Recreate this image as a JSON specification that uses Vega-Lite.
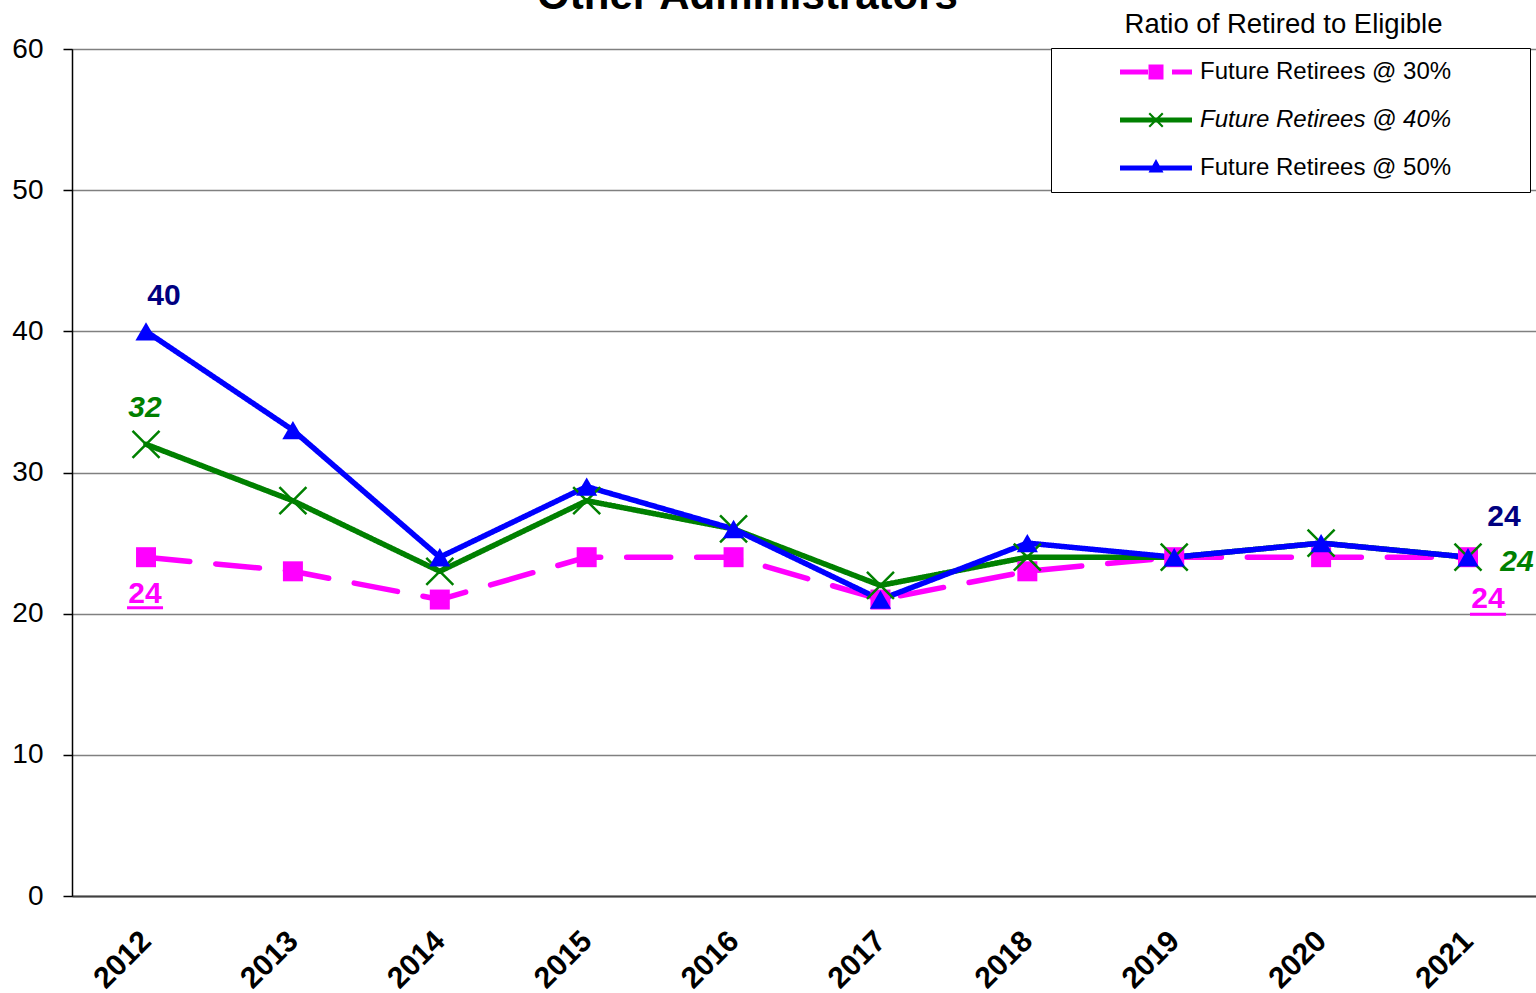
{
  "$schema": "https://vega.github.io/schema/vega-lite/v6.json",
  "autosize": "none",
  "width": 1464,
  "height": 847,
  "padding": {"left": 72, "top": 49, "right": 0, "bottom": 97},
  "config": {
    "font": "Liberation Sans",
    "view": {"stroke": "#000", "strokeWidth": 1},
    "background": "white"
  },
  "data": {"values": [
    {"year": 2012, "series": "Future Retirees @ 30%", "value": 24},
    {"year": 2013, "series": "Future Retirees @ 30%", "value": 23},
    {"year": 2014, "series": "Future Retirees @ 30%", "value": 21},
    {"year": 2015, "series": "Future Retirees @ 30%", "value": 24},
    {"year": 2016, "series": "Future Retirees @ 30%", "value": 24},
    {"year": 2017, "series": "Future Retirees @ 30%", "value": 21},
    {"year": 2018, "series": "Future Retirees @ 30%", "value": 23},
    {"year": 2019, "series": "Future Retirees @ 30%", "value": 24},
    {"year": 2020, "series": "Future Retirees @ 30%", "value": 24},
    {"year": 2021, "series": "Future Retirees @ 30%", "value": 24},
    {"year": 2012, "series": "Future Retirees @ 40%", "value": 32},
    {"year": 2013, "series": "Future Retirees @ 40%", "value": 28},
    {"year": 2014, "series": "Future Retirees @ 40%", "value": 23},
    {"year": 2015, "series": "Future Retirees @ 40%", "value": 28},
    {"year": 2016, "series": "Future Retirees @ 40%", "value": 26},
    {"year": 2017, "series": "Future Retirees @ 40%", "value": 22},
    {"year": 2018, "series": "Future Retirees @ 40%", "value": 24},
    {"year": 2019, "series": "Future Retirees @ 40%", "value": 24},
    {"year": 2020, "series": "Future Retirees @ 40%", "value": 25},
    {"year": 2021, "series": "Future Retirees @ 40%", "value": 24},
    {"year": 2012, "series": "Future Retirees @ 50%", "value": 40},
    {"year": 2013, "series": "Future Retirees @ 50%", "value": 33},
    {"year": 2014, "series": "Future Retirees @ 50%", "value": 24},
    {"year": 2015, "series": "Future Retirees @ 50%", "value": 29},
    {"year": 2016, "series": "Future Retirees @ 50%", "value": 26},
    {"year": 2017, "series": "Future Retirees @ 50%", "value": 21},
    {"year": 2018, "series": "Future Retirees @ 50%", "value": 25},
    {"year": 2019, "series": "Future Retirees @ 50%", "value": 24},
    {"year": 2020, "series": "Future Retirees @ 50%", "value": 25},
    {"year": 2021, "series": "Future Retirees @ 50%", "value": 24}
  ]},
  "encoding": {
    "x": {"field": "year", "type": "quantitative",
      "scale": {"domain": [2011.496, 2021.463], "nice": false, "zero": false},
      "axis": {"values": [2012, 2013, 2014, 2015, 2016, 2017, 2018, 2019, 2020, 2021], "format": "d",
        "title": "Other Administrators", "titleX": 675, "titleY": -888, "titleAngle": 0, "titleAlign": "center", "titleBaseline": "alphabetic",
        "titleFontSize": 42, "titleFontWeight": "bold", "titleColor": "black",
        "labelAngle": -45, "labelAlign": "right", "labelBaseline": "middle", "labelFontWeight": "bold", "labelFontSize": 30,
        "labelColor": "black", "labelPadding": 40, "ticks": false, "grid": false, "domainColor": "#404040", "domainWidth": 2, "labelFlush": false, "labelOverlap": false}},
    "y": {"field": "value", "type": "quantitative",
      "scale": {"domain": [0, 60], "nice": false},
      "axis": {"values": [0, 10, 20, 30, 40, 50, 60], "title": "Ratio of Retired to Eligible", "titleAngle": 0, "titleX": 1211, "titleY": -17,
        "titleAlign": "center", "titleBaseline": "alphabetic", "titleFontWeight": "normal", "titleFontSize": 27.5, "titleColor": "black",
        "grid": true, "gridColor": "#808080", "gridWidth": 1.5, "domainColor": "black", "domainWidth": 1.5, "tickColor": "black", "tickSize": 9, "tickWidth": 1.5,
        "labelFontSize": 28, "labelColor": "black", "labelPadding": 20}}
  },
  "layer": [
    {
      "mark": {"type": "line", "strokeWidth": 5.5, "strokeCap": "round", "strokeJoin": "round"},
      "encoding": {
        "color": {"field": "series", "type": "nominal",
          "scale": {"domain": ["Future Retirees @ 30%", "Future Retirees @ 40%", "Future Retirees @ 50%"], "range": ["#FF00FF", "#008000", "#0000FF"]},
          "legend": {"orient": "none", "legendX": 979, "legendY": -1, "title": null,
            "strokeColor": "#000", "fillColor": "white", "padding": 12,
            "symbolSize": 400, "symbolStrokeWidth": 0, "symbolOffset": 81,
            "labelFontSize": 24, "labelColor": "black", "labelOffset": 32, "rowPadding": 24, "labelLimit": 600,
            "labelExpr": "datum.label + '          \u200b'",
            "encode": {
              "symbols": {"update": {
                "shape": {"signal": "datum.index === 0 ? 'M-3.6,-0.25H-0.8V0.25H-3.6Z M-0.75,-0.75H0.75V0.75H-0.75Z M1.6,-0.25H3.6V0.25H1.6Z' : datum.index === 1 ? 'M-3.6,-0.25H3.6V0.25H-3.6Z M-0.75,-0.6L-0.6,-0.75L0.75,0.6L0.6,0.75Z M0.6,-0.75L0.75,-0.6L-0.6,0.75L-0.75,0.6Z' : 'M-3.6,-0.25H3.6V0.25H-3.6Z M0,-0.9L0.75,0.45L-0.75,0.45Z'"},
                "fill": {"scale": "color", "field": "value"},
                "fillOpacity": {"value": 1},
                "stroke": {"value": "transparent"},
                "strokeDash": {"value": []}
              }},
              "labels": {"update": {"fontStyle": {"signal": "datum.index === 1 ? 'italic' : 'normal'"}}}
            }}},
        "strokeDash": {"field": "series", "type": "nominal",
          "scale": {"domain": ["Future Retirees @ 30%", "Future Retirees @ 40%", "Future Retirees @ 50%"], "range": [[44, 26], [1, 0], [1, 0]]},
          "legend": null}
      }
    },
    {
      "transform": [{"filter": "datum.series === 'Future Retirees @ 30%'"}],
      "mark": {"type": "point", "shape": "square", "filled": true, "size": 400, "color": "#FF00FF", "opacity": 1}
    },
    {
      "transform": [{"filter": "datum.series === 'Future Retirees @ 40%'"}],
      "mark": {"type": "point", "shape": "M-1,-1L1,1M-1,1L1,-1", "filled": false, "size": 729, "strokeWidth": 2.5, "color": "#008000", "opacity": 1}
    },
    {
      "transform": [{"filter": "datum.series === 'Future Retirees @ 50%'"}],
      "mark": {"type": "point", "shape": "triangle-up", "filled": true, "size": 450, "color": "#0000FF", "opacity": 1}
    },
    {
      "transform": [{"filter": "datum.series === 'Future Retirees @ 50%' && datum.year === 2012"}],
      "mark": {"type": "text", "fontSize": 30, "fontWeight": "bold", "color": "#000080", "align": "center", "baseline": "alphabetic", "dx": 18, "dy": -26},
      "encoding": {"text": {"field": "value", "type": "quantitative"}}
    },
    {
      "transform": [{"filter": "datum.series === 'Future Retirees @ 50%' && datum.year === 2021"}],
      "mark": {"type": "text", "fontSize": 30, "fontWeight": "bold", "color": "#000080", "align": "center", "baseline": "alphabetic", "dx": 36, "dy": -31},
      "encoding": {"text": {"field": "value", "type": "quantitative"}}
    },
    {
      "transform": [{"filter": "datum.series === 'Future Retirees @ 40%' && datum.year === 2012"}],
      "mark": {"type": "text", "fontSize": 30, "fontWeight": "bold", "fontStyle": "italic", "color": "#008000", "align": "center", "baseline": "alphabetic", "dx": -1, "dy": -27},
      "encoding": {"text": {"field": "value", "type": "quantitative"}}
    },
    {
      "transform": [{"filter": "datum.series === 'Future Retirees @ 40%' && datum.year === 2021"}],
      "mark": {"type": "text", "fontSize": 30, "fontWeight": "bold", "fontStyle": "italic", "color": "#008000", "align": "center", "baseline": "alphabetic", "dx": 49, "dy": 14},
      "encoding": {"text": {"field": "value", "type": "quantitative"}}
    },
    {
      "transform": [{"filter": "datum.series === 'Future Retirees @ 30%' && datum.year === 2012"}],
      "mark": {"type": "text", "fontSize": 30, "fontWeight": "bold", "color": "#FF00FF", "align": "center", "baseline": "alphabetic", "dx": -1, "dy": 46},
      "encoding": {"text": {"field": "value", "type": "quantitative"}}
    },
    {
      "transform": [{"filter": "datum.series === 'Future Retirees @ 30%' && datum.year === 2021"}],
      "mark": {"type": "text", "fontSize": 30, "fontWeight": "bold", "color": "#FF00FF", "align": "center", "baseline": "alphabetic", "dx": 20, "dy": 51},
      "encoding": {"text": {"field": "value", "type": "quantitative"}}
    },
    {
      "transform": [{"filter": "datum.series === 'Future Retirees @ 30%' && datum.year === 2012"}],
      "mark": {"type": "tick", "orient": "horizontal", "size": 36, "thickness": 3, "color": "#FF00FF", "opacity": 1, "xOffset": -1, "yOffset": 50.5}
    },
    {
      "transform": [{"filter": "datum.series === 'Future Retirees @ 30%' && datum.year === 2021"}],
      "mark": {"type": "tick", "orient": "horizontal", "size": 36, "thickness": 3, "color": "#FF00FF", "opacity": 1, "xOffset": 20, "yOffset": 57}
    }
  ]
}
